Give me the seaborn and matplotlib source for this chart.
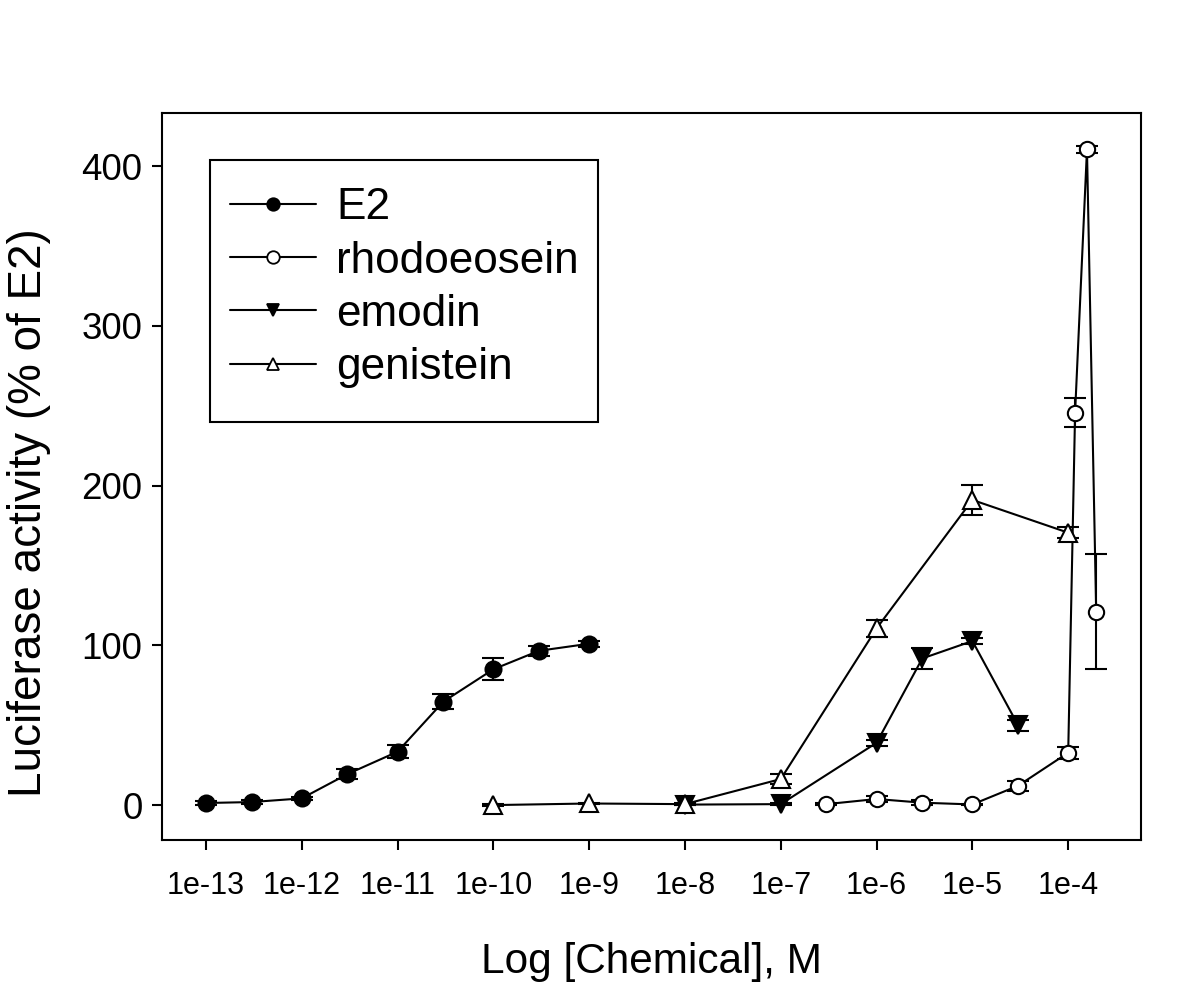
import numpy as np
import pandas as pd
import seaborn as sns
import matplotlib
matplotlib.use("Agg")
import matplotlib.pyplot as plt
from matplotlib.lines import Line2D
from matplotlib.patches import Rectangle

# concentrations (M) and luciferase activity (% of E2) with error bars
e2_conc = [1e-13, 3e-13, 1e-12, 3e-12, 1e-11, 3e-11, 1e-10, 3e-10, 1e-9]
e2_act = [1.3, 1.9, 4.2, 19.4, 33.4, 64.7, 85.0, 96.6, 101.0]
e2_err = [1, 1, 1, 3, 4, 4.7, 6.8, 3, 2]

rho_conc = [3e-7, 1e-6, 3e-6, 1e-5, 3e-5, 1e-4, 1.18e-4, 1.57e-4, 1.96e-4]
rho_act = [0.6, 3.8, 1.5, 0.4, 12.1, 32.8, 245.6, 410.4, 121.0]
rho_err = [0.5, 2, 1.5, 0.5, 3, 3.7, 9, 2, 36]

emo_conc = [1e-8, 1e-7, 1e-6, 3e-6, 1e-5, 3e-5]
emo_act = [0.3, 0.6, 39.0, 91.8, 102.7, 50.0]
emo_err = [0.5, 0.5, 2, 6.7, 2, 3.5]

gen_conc = [1e-10, 1e-9, 1e-8, 1e-7, 1e-6, 1e-5, 1e-4]
gen_act = [0.0, 1.0, 0.6, 16.3, 110.6, 191.0, 170.5]
gen_err = [0.5, 0.5, 0.5, 3, 5.5, 9.3, 3.3]

tick_pos = [1e-13, 1e-12, 1e-11, 1e-10, 1e-9, 1e-8, 1e-7, 1e-6, 1e-5, 1e-4]
tick_lab = ["1e-13", "1e-12", "1e-11", "1e-10", "1e-9", "1e-8", "1e-7", "1e-6", "1e-5", "1e-4"]

sns.set_style("ticks")
plt.rcParams['font.family'] = ['Liberation Sans', 'DejaVu Sans']
plt.rcParams['text.color'] = 'black'
plt.rcParams['axes.labelcolor'] = 'black'
plt.rcParams['xtick.color'] = 'black'
plt.rcParams['ytick.color'] = 'black'

fig = plt.figure(figsize=(12, 9.93), dpi=100)
ax = fig.add_axes([0.135, 0.154, 0.816, 0.7322])

series = [
    ("E2", e2_conc, e2_act, e2_err, "o", "black", 11.5),
    ("rhodoeosein", rho_conc, rho_act, rho_err, "o", "white", 11),
    ("emodin", emo_conc, emo_act, emo_err, "v", "black", 13),
    ("genistein", gen_conc, gen_act, gen_err, "^", "white", 13),
]

for name, x, y, err, mk, fc, ms in series:
    df = pd.DataFrame({"conc": x, "act": y})
    ax.errorbar(x, y, yerr=err, fmt="none", ecolor="black", elinewidth=1.5,
                capsize=8, capthick=1.5, zorder=2)
    sns.lineplot(data=df, x="conc", y="act", ax=ax, color="black", lw=1.5,
                 marker=mk, markersize=ms, markerfacecolor=fc,
                 markeredgecolor="black", markeredgewidth=1.5, zorder=3,
                 legend=False)

ax.set_xscale("log")
ax.set_xlim(3.48e-14, 5.78e-4)
ax.set_ylim(-21.9, 433.2)
ax.set_xticks(tick_pos, tick_lab)
ax.minorticks_off()
ax.set_yticks([0, 100, 200, 300, 400])
ax.tick_params(axis="x", labelsize=22, length=7, width=1.5, pad=15)
ax.tick_params(axis="y", labelsize=26.5, length=7, width=1.5, pad=7)
for s in ax.spines.values():
    s.set_visible(True)
    s.set_linewidth(1.5)
    s.set_color("black")

ax.set_xlabel("Log [Chemical], M", fontsize=30.5, labelpad=30)
ax.set_ylabel("Luciferase activity (% of E2)", fontsize=33)
ax.yaxis.set_label_coords(-0.113, 0.45)

# legend box
ax.add_patch(Rectangle((0.049, 0.575), 0.3964, 0.36, transform=ax.transAxes,
                       fill=False, edgecolor="black", lw=1.5, zorder=5))
handles = [Line2D([], [], color="black", lw=1.5, marker=mk, markersize=9,
                  markerfacecolor=fc, markeredgecolor="black", markeredgewidth=1.3)
           for name, x, y, err, mk, fc, ms in series]
labels = [s[0] for s in series]
ax.legend(handles, labels, loc="upper left", bbox_to_anchor=(0.0695, 0.898),
          frameon=False, fontsize=31.8, handlelength=1.95, handletextpad=0.45,
          labelspacing=0.28, borderpad=0, borderaxespad=0)

fig.savefig("out.png", dpi=100)
